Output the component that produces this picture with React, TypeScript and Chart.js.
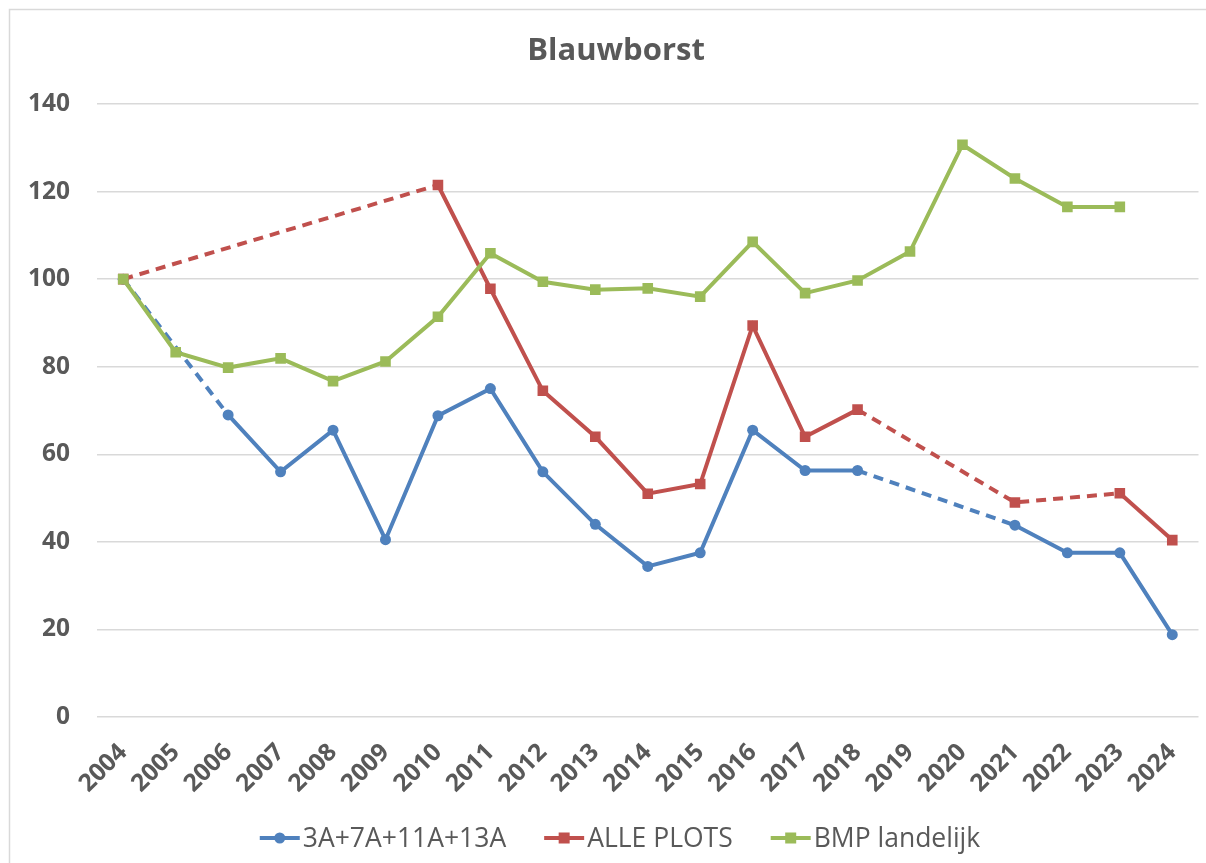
import React, { useEffect, useRef } from "react";
import { Chart, registerables } from "chart.js";

Chart.register(...registerables);

const years: string[] = [
  "2004", "2005", "2006", "2007", "2008", "2009", "2010", "2011", "2012", "2013",
  "2014", "2015", "2016", "2017", "2018", "2019", "2020", "2021", "2022", "2023", "2024",
];

const plots3A: (number | null)[] = [
  100, null, 69, 56, 65.5, 40.5, 68.8, 75, 56, 44,
  34.4, 37.5, 65.5, 56.3, 56.3, null, null, 43.8, 37.5, 37.5, 18.8,
];

const allePlots: (number | null)[] = [
  100, null, null, null, null, null, 121.5, 97.8, 74.5, 64,
  51, 53.2, 89.4, 64, 70.2, null, null, 49, null, 51.1, 40.4,
];

const bmpLandelijk: (number | null)[] = [
  100, 83.3, 79.8, 81.9, 76.7, 81.2, 91.4, 105.9, 99.4, 97.6,
  97.9, 96, 108.5, 96.8, 99.7, 106.3, 130.7, 123, 116.5, 116.5, null,
];

const yTicks: number[] = [0, 20, 40, 60, 80, 100, 120, 140];

const TITLE = "Blauwborst";
const BLUE = "#4f81bd";
const RED = "#c0504d";
const GREEN = "#9bbb59";
const TEXT = "#595959";
const GRID = "#d9d9d9";
const FONT = "'Open Sans', 'DejaVu Sans', sans-serif";
const DASH = [10, 7];

const dashed = (ctx: any) => (ctx.p0.skip || ctx.p1.skip ? DASH : undefined);

const decorPlugin = {
  id: "decor",
  afterDraw(chart: any) {
    const c: CanvasRenderingContext2D = chart.ctx;
    const W = chart.width;
    c.save();
    // outer border
    c.strokeStyle = GRID;
    c.lineWidth = 1.5;
    c.beginPath();
    c.moveTo(9.5, chart.height);
    c.lineTo(9.5, 9.5);
    c.lineTo(W, 9.5);
    c.stroke();

    // title
    c.fillStyle = TEXT;
    c.font = `bold 31px ${FONT}`;
    c.textAlign = "center";
    c.textBaseline = "middle";
    c.fillText(TITLE, 616, 51);

    // legend
    const ds = chart.data.datasets;
    c.font = `26.5px ${FONT}`;
    c.textAlign = "left";
    const lineLen = 40;
    const gapText = 3;
    const gapItem = 38;
    const widths = ds.map((d: any) => lineLen + gapText + c.measureText(d.label).width);
    const total = widths.reduce((a: number, b: number) => a + b, 0) + gapItem * (ds.length - 1);
    let x = 620 - total / 2;
    const y = 838;
    ds.forEach((d: any, i: number) => {
      c.strokeStyle = d.borderColor;
      c.lineWidth = 4;
      c.setLineDash([]);
      c.beginPath();
      c.moveTo(x, y);
      c.lineTo(x + lineLen, y);
      c.stroke();
      c.fillStyle = d.borderColor;
      const mx = x + lineLen / 2;
      if (d.pointStyle === "circle") {
        c.beginPath();
        c.arc(mx, y, 5.5, 0, Math.PI * 2);
        c.fill();
      } else {
        c.fillRect(mx - 5.5, y - 5.5, 11, 11);
      }
      c.fillStyle = TEXT;
      c.fillText(d.label, x + lineLen + gapText, y + 1);
      x += widths[i] + gapItem;
    });
    c.restore();
  },
};

export default function App() {
  const ref = useRef<HTMLCanvasElement | null>(null);

  useEffect(() => {
    if (!ref.current) return;
    const mk = (label: string, data: (number | null)[], color: string, style: string, order: number) => ({
      label,
      data,
      borderColor: color,
      backgroundColor: color,
      borderWidth: 4,
      pointStyle: style,
      pointRadius: style === "circle" ? 5.5 : 7.5,
      pointHoverRadius: style === "circle" ? 5.5 : 7.5,
      pointBorderWidth: 0,
      pointBackgroundColor: color,
      tension: 0,
      spanGaps: true,
      order,
      segment: { borderDash: dashed },
    });
    const chart = new Chart(ref.current, {
      type: "line",
      data: {
        labels: years,
        datasets: [
          mk("3A+7A+11A+13A", plots3A, BLUE, "circle", 2),
          mk("ALLE PLOTS", allePlots, RED, "rect", 1),
          mk("BMP landelijk", bmpLandelijk, GREEN, "rect", 0),
        ],
      },
      options: {
        animation: false,
        responsive: false,
        maintainAspectRatio: false,
        layout: { padding: { left: 10, right: 7, top: 104, bottom: 60 } },
        plugins: {
          legend: { display: false },
          title: { display: false },
          tooltip: { enabled: false },
        },
        scales: {
          x: {
            type: "category",
            offset: true,
            grid: { display: false, drawTicks: false },
            border: { display: false },
            ticks: {
              color: TEXT,
              font: { family: FONT, size: 24.5, weight: "bold" },
              minRotation: 45,
              maxRotation: 45,
              autoSkip: false,
              padding: 21,
            },
            afterFit: (s: any) => {
              s.height = 863 - 60 - 717;
              s.paddingLeft = 0;
              s.paddingRight = 0;
            },
          },
          y: {
            min: 0,
            max: 140,
            afterBuildTicks: (s: any) => {
              s.ticks = yTicks.map((v) => ({ value: v }));
            },
            grid: { color: GRID, lineWidth: 1.5, drawTicks: false },
            border: { display: false },
            ticks: {
              color: TEXT,
              font: { family: FONT, size: 24.5, weight: "bold" },
              padding: 27,
            },
            afterFit: (s: any) => {
              s.width = 87;
              s.paddingTop = 0;
              s.paddingBottom = 0;
            },
          },
        },
      },
      plugins: [decorPlugin],
    } as any);
    return () => chart.destroy();
  }, []);

  return (
    <div style={{ position: "absolute", left: 0, top: 0, width: 1206, height: 863, background: "#fff" }}>
      <canvas ref={ref} width={1206} height={863} style={{ display: "block", width: 1206, height: 863 }} />
    </div>
  );
}
